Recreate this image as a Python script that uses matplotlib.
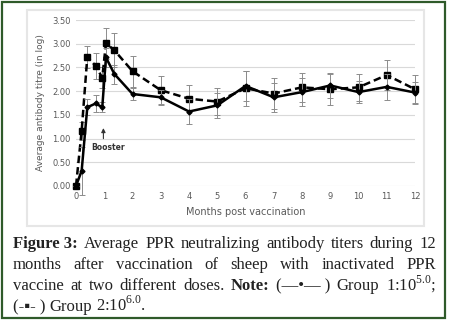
import numpy as np
import matplotlib.pyplot as plt
from matplotlib.patches import Rectangle

plt.rcParams['mathtext.fontset'] = 'custom'
plt.rcParams['mathtext.rm'] = 'Liberation Serif'

months = [0, 0.2, 0.4, 0.7, 0.93, 1.06, 1.36, 2, 3, 4, 5, 6, 7, 8, 9, 10, 11, 12]

group1 = [0.0, 0.32, 1.66, 1.74, 1.66, 2.71, 2.36, 1.94, 1.87, 1.57, 1.70,
          2.11, 1.87, 1.98, 2.12, 1.98, 2.09, 1.97]
group1_err = [0.0, 0.5, 0.17, 0.17, 0.11, 0.2, 0.2, 0.13, 0.16, 0.26, 0.27,
              0.32, 0.30, 0.30, 0.26, 0.24, 0.28, 0.22]

group2 = [0.0, 1.16, 2.72, 2.53, 2.28, 3.01, 2.86, 2.42, 2.02, 1.84, 1.78,
          2.06, 1.95, 2.08, 2.04, 2.08, 2.34, 2.04]
group2_err = [0.0, 0.18, 0.24, 0.28, 0.22, 0.33, 0.36, 0.33, 0.30, 0.28, 0.29,
              0.37, 0.33, 0.30, 0.33, 0.28, 0.31, 0.31]

yticks = [0.0, 0.5, 1.0, 1.5, 2.0, 2.5, 3.0, 3.5]
xticks = list(range(13))

W, H = 449, 321
fig = plt.figure(figsize=(W / 100, H / 100), dpi=100)

# outer green frame and light grey chart panel
fig.patches.append(Rectangle((2 / W, 3 / H), 443 / W, 316 / H, transform=fig.transFigure,
                             fill=False, ec='#2f5a2a', lw=1.6))
fig.patches.append(Rectangle((27 / W, 1 - 226 / H), 397 / W, 216 / H, transform=fig.transFigure,
                             fill=False, ec='#e6e6e6', lw=1.5))

ax = fig.add_axes([76 / W, 1 - 186 / H, 339 / W, 166 / H])
for s in ax.spines.values():
    s.set_visible(False)
ax.set_xlim(0, 12)
ax.set_ylim(0, 3.5)
ax.set_yticks(yticks)
ax.set_yticklabels(['%.2f' % v for v in yticks])
ax.set_xticks(xticks)
ax.grid(axis='y', color='#d9d9d9', lw=0.8)
ax.set_axisbelow(True)
ax.tick_params(length=0, labelsize=6, colors='#595959', pad=4)

ax.errorbar(months, group2, yerr=group2_err, color='black', ls='--', lw=1.8,
            marker='s', ms=4.5, ecolor='#8c8c8c', elinewidth=0.7, capsize=2,
            capthick=0.7, dashes=(3, 1.6), clip_on=False, zorder=3)
ax.errorbar(months, group1, yerr=group1_err, color='black', ls='-', lw=1.8,
            marker='D', ms=2.5, ecolor='#8c8c8c', elinewidth=0.7, capsize=2,
            capthick=0.7, clip_on=False, zorder=4)

ax.annotate('', xy=(0.97, 1.28), xytext=(0.97, 0.94),
            arrowprops=dict(arrowstyle='-|>', color='#333333', lw=0.8, mutation_scale=6))
ax.text(1.12, 0.82, 'Booster', ha='center', va='center', fontsize=5.5,
        fontweight='bold', color='#333333',
        bbox=dict(fc='white', ec='none', pad=1.5))

ax.set_ylabel('Average antibody titre (in log)', fontsize=6.5, color='#595959', labelpad=5)
ax.set_xlabel('Months post vaccination', fontsize=7, color='#595959', labelpad=5)

# caption, justified line by line
lines = [
    [('Figure 3:', 'bold'), ('Average', 'normal'), ('PPR', 'normal'), ('neutralizing', 'normal'),
     ('antibody', 'normal'), ('titers', 'normal'), ('during', 'normal'), ('12', 'normal')],
    [('months', 'normal'), ('after', 'normal'), ('vaccination', 'normal'), ('of', 'normal'),
     ('sheep', 'normal'), ('with', 'normal'), ('inactivated', 'normal'), ('PPR', 'normal')],
    [('vaccine', 'normal'), ('at', 'normal'), ('two', 'normal'), ('different', 'normal'),
     ('doses.', 'normal'), ('Note:', 'bold'), ('(\u2014\u2022\u2014 )', 'normal'),
     ('Group', 'normal'), ('1:10$^{5.0}$;', 'normal')],
    [('(-\u25aa- )', 'normal'), ('Group', 'normal'), ('2:10$^{6.0}$.', 'normal')],
]
x0, x1 = 13, 436
baselines = [248, 269, 290, 311]
fig.canvas.draw()
r = fig.canvas.get_renderer()
for i, (words, yb) in enumerate(zip(lines, baselines)):
    texts = [fig.text(0, 1 - yb / H, w, fontsize=12, family=['Liberation Serif', 'DejaVu Serif'],
                      fontweight=wt, color='#222222', va='baseline') for w, wt in words]
    widths = [t.get_window_extent(r).width for t in texts]
    if i < len(lines) - 1:
        gap = (x1 - x0 - sum(widths)) / (len(texts) - 1)
    else:
        gap = 4
    x = x0
    for t, w in zip(texts, widths):
        t.set_x(x / W)
        x += w + gap

fig.savefig('out.png', dpi=100)
